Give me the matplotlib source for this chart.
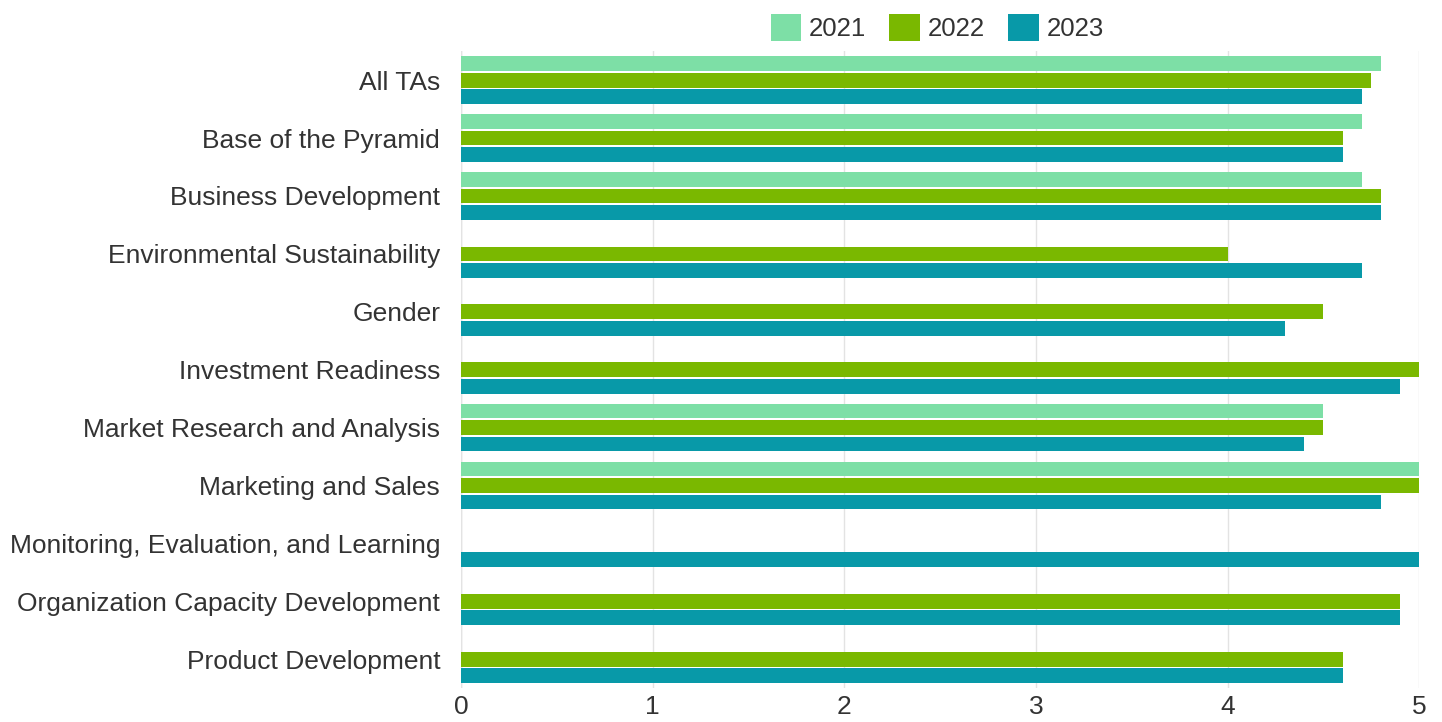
import matplotlib
matplotlib.use("Agg")
import matplotlib.pyplot as plt
from matplotlib.patches import Patch
import numpy as np

plt.rcParams['font.family'] = ['Liberation Sans', 'DejaVu Sans']

categories = [
    "All TAs",
    "Base of the Pyramid",
    "Business Development",
    "Environmental Sustainability",
    "Gender",
    "Investment Readiness",
    "Market Research and Analysis",
    "Marketing and Sales",
    "Monitoring, Evaluation, and Learning",
    "Organization Capacity Development",
    "Product Development",
]

# missing years are left as NaN (no bar drawn)
nan = np.nan
scores_2021 = [4.8, 4.7, 4.7, nan, nan, nan, 4.5, 5.0, nan, nan, nan]
scores_2022 = [4.75, 4.6, 4.8, 4.0, 4.5, 5.0, 4.5, 5.0, nan, 4.9, 4.6]
scores_2023 = [4.7, 4.6, 4.8, 4.7, 4.3, 4.9, 4.4, 4.8, 5.0, 4.9, 4.6]

years = ["2021", "2022", "2023"]
colors = ["#7ddfa6", "#7ab800", "#0899a8"]

fig = plt.figure(figsize=(14.42, 7.22), dpi=100)
ax = fig.add_axes([0.3197, 0.047, 0.6645, 0.882])

y = np.arange(len(categories))
step = 0.285
height = 0.255
for i, (vals, col) in enumerate(zip([scores_2021, scores_2022, scores_2023], colors)):
    ax.barh(y + (i - 1) * step, vals, height=height, color=col, zorder=3)

ax.set_ylim(len(categories) - 0.5, -0.5)
ax.set_xlim(0, 5)
ax.set_yticks(y)
ax.set_yticklabels(categories)
ax.set_xticks(range(6))
ax.tick_params(axis='y', length=0, pad=15, labelsize=19, labelcolor="#333333")
ax.tick_params(axis='x', length=0, pad=5, labelsize=19, labelcolor="#333333")
ax.grid(axis='x', color="#e3e3e3", linewidth=1, zorder=0)
for s in ax.spines.values():
    s.set_visible(False)
ax.axvline(0, color="#d8d8d8", linewidth=1, zorder=1)

handles = [Patch(facecolor=c, label=yr) for c, yr in zip(colors, years)]
fig.legend(handles=handles, loc='upper center', bbox_to_anchor=(0.65, 1.012),
           ncol=3, frameon=False, fontsize=18.5, handlelength=1.2, handleheight=1.2,
           handletextpad=0.3, columnspacing=0.9, labelcolor="#333333")

fig.savefig("out.png", dpi=100)
